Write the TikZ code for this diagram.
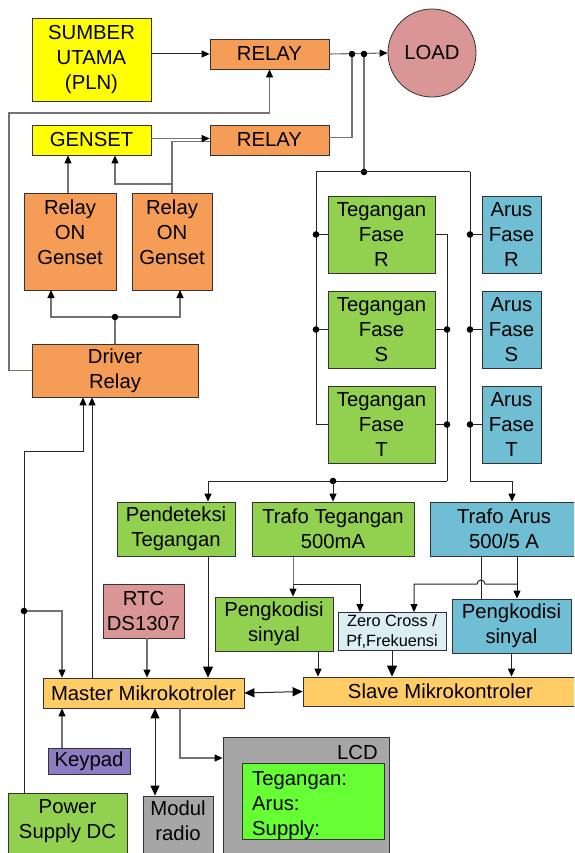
\documentclass[tikz,border=0pt]{standalone}
\usepackage{fontspec}
\setmainfont{Liberation Sans}
\usetikzlibrary{arrows.meta,calc}
\definecolor{cyel}{HTML}{FFFF00}
\definecolor{corg}{HTML}{F59D56}
\definecolor{cload}{HTML}{D99694}
\definecolor{cgrn}{HTML}{92D050}
\definecolor{cblu}{HTML}{6FBED3}
\definecolor{czc}{HTML}{DBEEF4}
\definecolor{cmcu}{HTML}{FFCC66}
\definecolor{ckey}{HTML}{8E7CC3}
\definecolor{cgry}{HTML}{A6A6A6}
\definecolor{clcd}{HTML}{66FF33}
\begin{document}
\begin{tikzpicture}[x=1pt,y=-1pt,
  box/.style={draw=black!80, line width=0.8pt, inner sep=0pt, align=center, font=\fontsize{20.3}{25}\selectfont},
  txt/.style={inner sep=0pt, align=center, font=\fontsize{20.3}{25}\selectfont},
  wire/.style={draw=black!85, line width=1pt},
  gwire/.style={draw=black!55, line width=1.1pt},
  arr/.style={wire, -{Triangle[length=8pt,width=7pt,color=black]}},
  garr/.style={gwire, -{Triangle[length=8pt,width=7pt,color=black]}},
  bigarr/.style={wire, -{Triangle[length=11pt,width=10pt,color=black]}},
  dbl/.style={wire, {Triangle[length=10pt,width=9pt,color=black]}-{Triangle[length=10pt,width=9pt,color=black]}},
  jdot/.style={fill=black},
]
\clip (0,0) rectangle (574,853);
\fill[white] (0,0) rectangle (574,853);

% ---------------- top part
\node[box,fill=cyel,minimum width=119pt,minimum height=83pt] (sumber) at (91.5,59.5) {SUMBER\\UTAMA\\(PLN)};
\node[box,fill=corg,minimum width=119pt,minimum height=30pt] (relay1) at (269.5,54) {RELAY};
\node[box,circle,fill=cload,minimum size=88pt] (load) at (432,53) {LOAD};
\node[box,fill=cyel,minimum width=119pt,minimum height=30pt] (genset) at (91.5,140) {GENSET};
\node[box,fill=corg,minimum width=119pt,minimum height=30pt] (relay2) at (269.5,140) {RELAY};
\node[box,fill=corg,minimum width=92pt,minimum height=97pt] (rog1) at (70,241.5) {};
\node[txt] (rog1t) at (70,232) {Relay\\ON\\Genset};
\node[box,fill=corg,minimum width=80pt,minimum height=97pt] (rog2) at (172,241.5) {};
\node[txt] (rog2t) at (172,232) {Relay\\ON\\Genset};
\node[box,fill=corg,minimum width=166pt,minimum height=53pt] (driver) at (115,370.5) {Driver\\Relay};

% ---------------- phases
\node[box,fill=cgrn,minimum width=107pt,minimum height=77pt] (tfR) at (381.5,234.5) {Tegangan\\Fase\\R};
\node[box,fill=cgrn,minimum width=107pt,minimum height=77pt] (tfS) at (381.5,329.5) {Tegangan\\Fase\\S};
\node[box,fill=cgrn,minimum width=107pt,minimum height=77pt] (tfT) at (381.5,424.5) {Tegangan\\Fase\\T};
\node[box,fill=cblu,minimum width=59pt,minimum height=77pt] (afR) at (511.5,234.5) {Arus\\Fase\\R};
\node[box,fill=cblu,minimum width=59pt,minimum height=77pt] (afS) at (511.5,329.5) {Arus\\Fase\\S};
\node[box,fill=cblu,minimum width=59pt,minimum height=77pt] (afT) at (511.5,424.5) {Arus\\Fase\\T};

% ---------------- sensing
\node[box,fill=cgrn,minimum width=118pt,minimum height=54pt] (pend) at (176,529) {Pendeteksi\\Tegangan};
\node[box,fill=cgrn,minimum width=162pt,minimum height=54pt] (trafoV) at (333,529) {Trafo Tegangan\\500mA};
\node[box,fill=cblu,minimum width=148pt,minimum height=54pt] (trafoA) at (504,529) {Trafo Arus\\500/5 A};
\node[box,fill=cgrn,minimum width=118pt,minimum height=54pt] (pk1) at (274,624) {Pengkodisi\\sinyal};
\node[box,fill=czc,minimum width=108pt,minimum height=38pt,font=\fontsize{16.3}{20}\selectfont] (zc) at (392,631.5) {Zero Cross /\\Pf,Frekuensi};
\node[box,fill=cblu,minimum width=119pt,minimum height=54pt] (pk2) at (511.5,626) {Pengkodisi\\sinyal};
\node[box,fill=cmcu,minimum width=275pt,minimum height=29pt] (slave) at (440.5,691.5) {Slave Mikrokontroler};
\node[box,fill=cmcu,minimum width=201pt,minimum height=30pt] (master) at (143.5,693) {Master Mikrokotroler};
\node[box,fill=cload,minimum width=81pt,minimum height=54pt] (rtc) at (143.5,611) {RTC\\DS1307};
\node[box,fill=ckey,minimum width=82pt,minimum height=26pt] (keypad) at (89,761) {Keypad};
\node[box,fill=cgry,minimum width=70pt,minimum height=74pt] (modul) at (178,833) {};
\node[txt] (modult) at (178,821) {Modul\\radio};
\node[box,fill=cgrn,minimum width=119pt,minimum height=77pt] (power) at (67.5,831.5) {};
\node[txt] (powert) at (67.5,821.4) {Power\\Supply DC};
\node[box,fill=cgry,minimum width=166pt,minimum height=133pt] (lcd) at (306,803.5) {};
\node[txt,anchor=base east] (lcdt) at (378,759) {LCD};
\node[box,fill=clcd,minimum width=142pt,minimum height=76pt] (scr) at (313,801) {};
\node[txt,align=left,anchor=west] (scrt) at (252,805.4) {Tegangan:\\Arus:\\Supply:};

% ---------------- coordinates
\coordinate (j1) at (352,54);
\coordinate (j2) at (364,54);
\coordinate (j3) at (364,172);
\coordinate (fl) at (316,172);
\coordinate (fr) at (470,172);
\coordinate (ab) at (470,481);
\coordinate (ta) at (512,481);
\coordinate (vr) at (447,0);
\coordinate (vb) at (447,481);
\coordinate (pb) at (208,481);
\coordinate (j6) at (333,481);
\coordinate (l1) at (9,370.5);
\coordinate (l2) at (9,113);
\coordinate (l3) at (269.5,113);
\coordinate (j4) at (115,317);
\coordinate (r1b) at (51,290);
\coordinate (r2b) at (180,290);
\coordinate (g1) at (68,0);
\coordinate (k1) at (172,184);
\coordinate (k2) at (115,184);
\coordinate (p1) at (24,451);
\coordinate (p2) at (83,451);
\coordinate (j5) at (24,611);
\coordinate (p3) at (62,611);
\coordinate (m1) at (92,0);
\coordinate (c147) at (147,0);
\coordinate (c208) at (208,0);
\coordinate (c155) at (155,0);
\coordinate (k7) at (180,758);
\coordinate (k3) at (293,584);
\coordinate (k4) at (360,584);
\coordinate (c481) at (481,0);
\coordinate (k5) at (517,584);
\coordinate (k6) at (414,584);
\coordinate (c318) at (318,0);

% ---------------- top connectors
\draw[arr] (sumber.east |- relay1.west) -- (relay1.west);
\draw[garr] (relay1.east) -- (load.west);
\draw[gwire] ([yshift=2.5pt]relay2.east) -| (j1);
\draw[gwire] (j2) -- (j3);
\fill[jdot] (j1) circle (3.3) (j2) circle (3.3) (j3) circle (3.3);
\draw[garr] (driver.west) -- (l1) -- (l2) -- (l3) -- (relay1.south);
\draw[gwire] (driver.north) -- (j4);
\draw[garr] (j4) -| (r1b);
\draw[garr] (j4) -| (r2b);
\fill[jdot] (j4) circle (3.3);
\draw[garr] (rog1.north -| g1) -- (g1 |- genset.south);
\draw[garr] (rog2.north) -- (k1) -- (k2) -- (k2 |- genset.south);
\draw[gwire] (k1) |- ([yshift=-1.5pt]relay2.west);
\draw[garr] ([yshift=1.5pt]genset.east) -- ([yshift=1.5pt]relay2.west);

% ---------------- phase frame
\draw[wire] (fl) -- (fr);
\draw[wire] (fl) |- (tfT.west);
\draw[wire] (tfR.west -| fl) -- (tfR.west);
\draw[wire] (tfS.west -| fl) -- (tfS.west);
\fill[jdot] (tfR.west -| fl) circle (3.3) (tfS.west -| fl) circle (3.3);
\draw[arr] (fr) -- (ab) -- (ta) -- (ta |- trafoA.north);
\draw[wire] (afR.west -| fr) -- (afR.west);
\draw[wire] (afS.west -| fr) -- (afS.west);
\draw[wire] (afT.west -| fr) -- (afT.west);
\fill[jdot] (afR.west -| fr) circle (3.3) (afS.west -| fr) circle (3.3) (afT.west -| fr) circle (3.3);
\draw[wire] (tfR.east) -| (vb);
\draw[arr] (vb) -- (pb) -- (pb |- pend.north);
\draw[wire] (tfS.east) -- (tfS.east -| vr);
\draw[wire] (tfT.east) -- (tfT.east -| vr);
\fill[jdot] (tfS.east -| vr) circle (3.3) (tfT.east -| vr) circle (3.3) (j6) circle (3.3);
\draw[arr] (j6) -- (j6 |- trafoV.north);

% ---------------- lower connectors
\draw[arr] (trafoV.south -| k3) -- (k3) -- (k3 |- pk1.north);
\draw[arr] (k3) -- (k4) -- (k4 |- zc.north);
\draw[wire] (trafoA.south -| c481) -- (c481 |- pk2.north);
\draw[arr] (trafoA.south -| k5) -- (k5 |- pk2.north);
\draw[arr] (k5) -- (485,584) arc (0:-180:4) -- (k6) -- (k6 |- zc.north);
\draw[arr] (pk1.south -| c318) -- (c318 |- slave.north);
\draw[bigarr] (zc.south) -- (zc.south |- slave.north);
\draw[arr] (pk2.south) -- (pk2.south |- slave.north);
\draw[dbl] (master.east) -- (slave.west);
\draw[arr] (power.north -| j5) -- (p1) -- (p2) -- (p2 |- driver.south);
\draw[garr] (j5) -- (p3) -- (p3 |- master.north);
\fill[jdot] (j5) circle (3.3);
\draw[arr] (master.north -| m1) -- (m1 |- driver.south);
\draw[garr] (rtc.south -| c147) -- (c147 |- master.north);
\draw[bigarr] (pend.south -| c208) -- (c208 |- master.north);
\draw[garr] (keypad.north -| p3) -- (p3 |- master.south);
\draw[dbl] (master.south -| c155) -- (c155 |- modul.north);
\draw[garr] (master.south -| k7) -- (k7) -- (k7 -| lcd.west);
\end{tikzpicture}
\end{document}
